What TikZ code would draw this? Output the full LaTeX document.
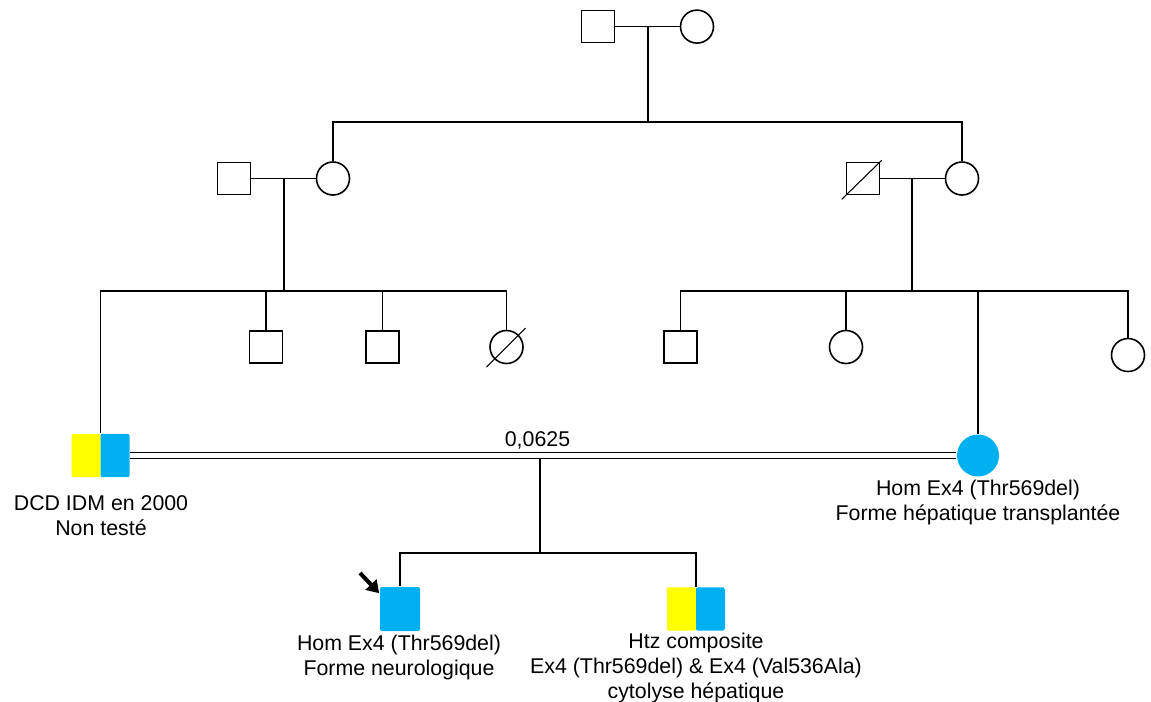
\documentclass[tikz,border=0pt]{standalone}
\usepackage{fontspec}
\setmainfont{Liberation Sans}
\usetikzlibrary{calc,arrows.meta}
\definecolor{affblue}{RGB}{0,176,240}
\definecolor{affyellow}{RGB}{255,255,0}
\begin{document}
\begin{tikzpicture}[x=0.75pt,y=-0.75pt,
 line width=1.2pt,
 male/.style={draw,rectangle,inner sep=0pt,minimum width=24.75pt,minimum height=24pt},
 female/.style={draw,circle,inner sep=0pt,minimum size=24.75pt},
 affmale/.style={rectangle,inner sep=0pt,fill=affblue,rounded corners=1.5pt,minimum width=30pt,minimum height=33pt},
 afffemale/.style={circle,inner sep=0pt,fill=affblue,minimum size=31.5pt},
 twomale/.style={rectangle,inner sep=0pt,rounded corners=1.5pt,minimum width=43.5pt,minimum height=32.5pt,
   path picture={
     \fill[affyellow] (path picture bounding box.south west) rectangle (path picture bounding box.north);
     \fill[affblue] (path picture bounding box.south) rectangle (path picture bounding box.north east);
   }},
 lbl/.style={align=center,anchor=base,inner sep=0pt,font=\fontsize{16}{18.75}\selectfont},
 slash/.style={line width=0.8pt},
 probarrow/.style={-{Triangle[length=9pt,width=11pt]},line width=3pt}
]
\useasboundingbox (0,0) rectangle (1151,701);

% generation I
\node[male] (g1m) at (598,26.6) {};
\node[female] (g1f) at (697,26.6) {};
\draw (g1m.east) -- (g1f.west);
\coordinate (g1u) at (648,26.6);
\coordinate (g1s) at (648,122);
\draw (g1u) -- (g1s);

% generation II
\node[male] (g2m) at (234,178.5) {};
\node[female] (g2f) at (333,178.5) {};
\node[male] (g2dm) at (863,178.5) {};
\node[female] (g2rf) at (962,178.5) {};
\draw (g2f.north) |- (g1s) -| (g2rf.north);
\draw (g2m.east) -- (g2f.west);
\draw (g2dm.east) -- (g2rf.west);
\draw[slash] ($(g2dm.south west)+(-4,4)$) -- ($(g2dm.north east)+(1.5,-1.5)$);
\coordinate (g2lu) at (284,178.5);
\coordinate (g2ls) at (284,291);
\draw (g2lu) -- (g2ls);
\coordinate (g2ru) at (912,178.5);
\coordinate (g2rs) at (912,291);
\draw (g2ru) -- (g2rs);

% generation III, left sibship
\node[twomale] (pa) at (100.5,455.5) {};
\node[male] (c2) at (266,347) {};
\node[male] (c3) at (382.5,347) {};
\node[female] (c4) at (506.5,347) {};
\draw[slash] ($(c4.center)+(-20,20)$) -- ($(c4.center)+(19,-19)$);
\draw (pa.north) |- (g2ls) -| (c4.north);
\draw (c2.north) -- (c2.north |- g2ls);
\draw (c3.north) -- (c3.north |- g2ls);

% generation III, right sibship
\node[male] (d1) at (680.5,347) {};
\node[female] (d2) at (846,347) {};
\node[afffemale] (mo) at (978,455.5) {};
\node[female] (d4) at (1128,355) {};
\draw (d1.north) |- (g2rs) -| (d4.north);
\draw (d2.north) -- (d2.north |- g2rs);
\draw (mo.north) -- (mo.north |- g2rs);

% consanguineous union
\draw ([yshift=2.25pt]pa.east) -- ([yshift=2.25pt]mo.west);
\draw ([yshift=-2.25pt]pa.east) -- ([yshift=-2.25pt]mo.west);
\node[lbl] (cons) at (537.5,446) {0,0625};
\coordinate (g3u) at (540,458.5);
\coordinate (g3s) at (540,553);
\draw (g3u) -- (g3s);

% generation IV
\node[affmale] (pb) at (400,609) {};
\node[twomale] (sb) at (696,609) {};
\draw (pb.north) |- (g3s) -| (sb.north);
\coordinate (arr) at (360,573);
\draw[probarrow] (arr) -- ($(pb.north west)+(0,7)$);

% labels (base anchor = baseline of the last line)
\node[lbl] (tpa) at (101,535) {DCD IDM en 2000\\Non testé};
\node[lbl] (tmo) at (978,520) {Hom Ex4 (Thr569del)\\Forme hépatique transplantée};
\node[lbl] (tpb) at (399,675) {Hom Ex4 (Thr569del)\\Forme neurologique};
\node[lbl] (tsb) at (696,698.5) {Htz composite\\Ex4 (Thr569del) \& Ex4 (Val536Ala)\\cytolyse hépatique};
\end{tikzpicture}
\end{document}
